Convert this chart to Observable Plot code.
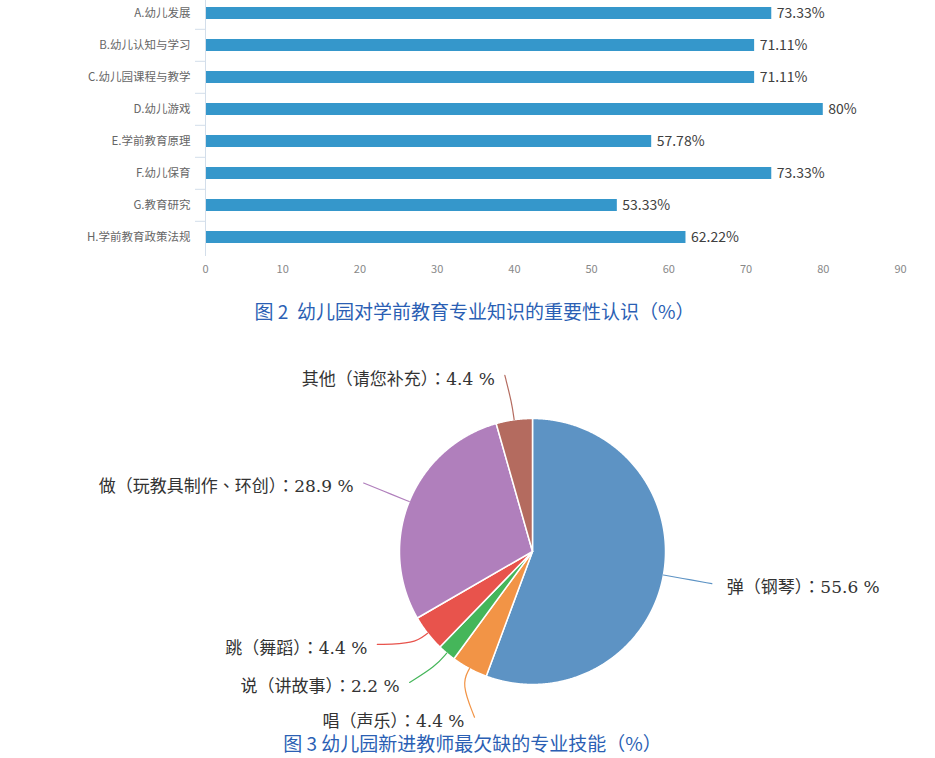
<!DOCTYPE html>
<html><head><meta charset="utf-8">
<script src="https://cdn.jsdelivr.net/npm/d3@7"></script>
<script src="https://cdn.jsdelivr.net/npm/@observablehq/plot@0.6"></script>
<style>
body{margin:0;background:#fff;width:935px;overflow:hidden;}
#bar svg,#pie svg{display:block;}
.cap{font-family:"Noto Sans CJK SC","Noto Sans",sans-serif;color:#2b5fb4;text-align:center;font-size:19px;white-space:pre;position:relative;}
#cap1{height:26px;line-height:26px;margin-top:13px;padding-left:14px;}
#cap2{height:24px;line-height:24px;margin-top:-9px;padding-left:10px;}
</style></head><body>
<div id="bar"></div>
<div id="cap1" class="cap">图 2  幼儿园对学前教育专业知识的重要性认识（%）</div>
<div id="pie"></div>
<div id="cap2" class="cap">图 3 幼儿园新进教师最欠缺的专业技能（%）</div>
<script>
// ---- Bar chart data ----
const barCategories = ["A.幼儿发展", "B.幼儿认知与学习", "C.幼儿园课程与教学", "D.幼儿游戏", "E.学前教育原理", "F.幼儿保育", "G.教育研究", "H.学前教育政策法规"];
const barValues = [73.33, 71.11, 71.11, 80, 57.78, 73.33, 53.33, 62.22];
const barLabels = ["73.33%", "71.11%", "71.11%", "80%", "57.78%", "73.33%", "53.33%", "62.22%"];
const xTicks = [0, 10, 20, 30, 40, 50, 60, 70, 80, 90];

// ---- Pie chart data ----
const pieNames = ["弹（钢琴）", "唱（声乐）", "说（讲故事）", "跳（舞蹈）", "做（玩教具制作、环创）", "其他（请您补充）"];
const pieValues = [55.6, 4.4, 2.2, 4.4, 28.9, 4.4];
const pieColors = ["#5d93c4", "#f29446", "#45b65a", "#e8534c", "#b07fbc", "#b46b5f"];
// label placement tweaks (layout only): angle shift in degrees, label radius factor
const labelShift = [0, -9, 3, 7, 0, -1];
const labelRadius = [1.37, 1.32, 1.35, 1.36, 1.37, 1.34];

const barData = barCategories.map((c, i) => ({cat: c, value: barValues[i], label: barLabels[i]}));
const axisColor = "#d3deea";
const sans = '"Noto Sans CJK SC","Noto Sans",sans-serif';

const bar = Plot.plot({
  width: 935, height: 285,
  marginLeft: 205, marginRight: 35, marginTop: 0, marginBottom: 29,
  style: {fontFamily: sans, background: "#fff"},
  x: {domain: [0, 90], label: null},
  y: {domain: barCategories, range: [-5.2, 254.2], paddingInner: 0.63, paddingOuter: 0.315, label: null},
  marks: [
    Plot.barX(barData, {x: "value", y: "cat", fill: "#3597cb"}),
    Plot.ruleX([0], {stroke: axisColor}),
    Plot.axisX({ticks: xTicks, tickSize: 0, tickPadding: 9, line: true, stroke: axisColor, fill: "#888", fontSize: 11, label: null}),
    Plot.axisY({tickSize: 0, tickPadding: 15, fill: "#666", fontSize: 11.5, label: null}),
    Plot.axisY({tickSize: 10, text: null, stroke: axisColor, dy: -16.2, label: null}),
    Plot.text(barData, {x: "value", y: "cat", text: "label", dx: 5, textAnchor: "start", fontSize: 14, fill: "#404040"})
  ]
});
document.getElementById("bar").append(bar);

// ---- Pie geometry from data ----
const W = 935, H = 416, cx = 532, cy = 227, R = 133;
const arcs = d3.pie().sort(null).value(d => d).startAngle(0).endAngle(2 * Math.PI)(pieValues);
const pt = (a, r) => ({x: r * Math.sin(a), y: -r * Math.cos(a)});
const slices = arcs.map((a, i) => {
  const pts = [pt(0, 0)];
  const n = Math.max(2, Math.ceil((a.endAngle - a.startAngle) / 0.005));
  for (let k = 0; k <= n; k++) pts.push(pt(a.startAngle + (a.endAngle - a.startAngle) * k / n, 1));
  return {pts, color: pieColors[i]};
});
const labels = arcs.map((a, i) => {
  const mid = (a.startAngle + a.endAngle) / 2;
  const la = mid + labelShift[i] * Math.PI / 180;
  const end = pt(la, labelRadius[i]);
  const right = Math.sin(la) > 0;
  return {
    line: [pt(mid, 1), pt(mid, 1.13), end],
    x: end.x, y: end.y, right, color: pieColors[i],
    text: `${pieNames[i]}：${pieValues[i]} %`
  };
});
const serif = '"DejaVu Serif","Noto Sans CJK TC","Noto Sans CJK SC",serif';

const pie = Plot.plot({
  width: W, height: H, margin: 0,
  style: {fontFamily: serif, background: "transparent"},
  x: {domain: [-cx / R, (W - cx) / R], range: [0, W], axis: null},
  y: {domain: [-cy / R, (H - cy) / R], range: [0, H], axis: null},
  marks: [
    ...slices.map(s => Plot.line(s.pts, {x: "x", y: "y", fill: s.color, stroke: "#fff", strokeWidth: 1.5, curve: "linear-closed"})),
    ...labels.map(l => Plot.line(l.line, {x: "x", y: "y", stroke: l.color, strokeWidth: 1.2, curve: "basis"})),
    Plot.text(labels.filter(l => l.right), {x: "x", y: "y", text: "text", textAnchor: "start", dx: 15, dy: 4, fontSize: 17, fill: "#333"}),
    Plot.text(labels.filter(l => !l.right), {x: "x", y: "y", text: "text", textAnchor: "end", dx: -10, dy: 4, fontSize: 17, fill: "#333"})
  ]
});
document.getElementById("pie").append(pie);
</script>
</body></html>
